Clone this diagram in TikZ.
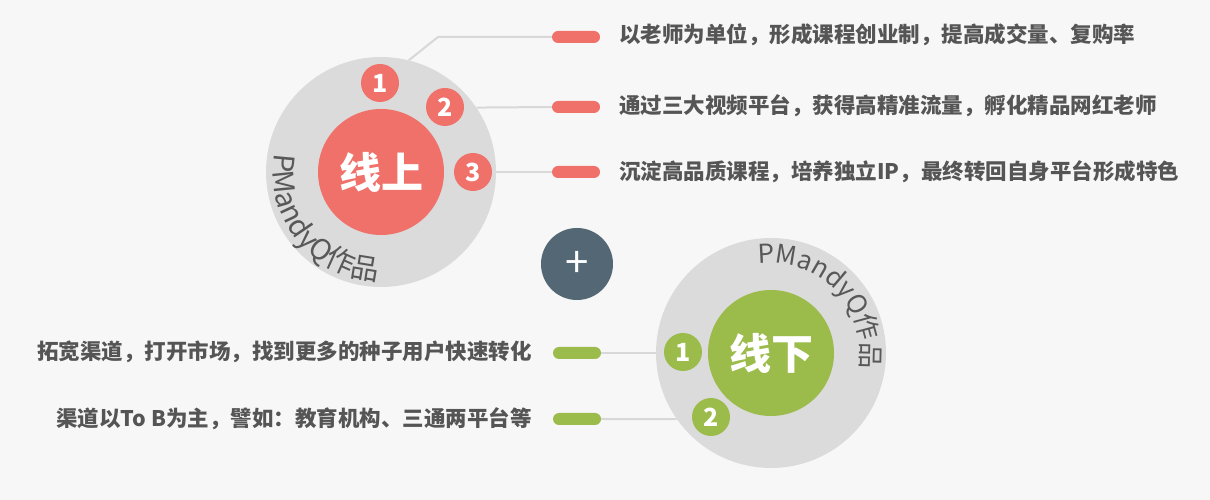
\documentclass[tikz,border=0pt]{standalone}
\usepackage{fontspec}
\setmainfont{Noto Sans CJK SC}
\usetikzlibrary{decorations.text}
\definecolor{bgpaper}{RGB}{247,247,247}
\definecolor{ringgray}{RGB}{219,219,219}
\definecolor{linegray}{RGB}{216,216,216}
\definecolor{onred}{RGB}{240,112,106}
\definecolor{offgreen}{RGB}{155,187,74}
\definecolor{plusslate}{RGB}{83,104,116}
\definecolor{txtgray}{RGB}{85,85,85}
\definecolor{markgray}{RGB}{88,88,88}
\begin{document}
\begin{tikzpicture}[x=1pt, y=1pt,
  ring/.style={circle, fill=ringgray, minimum size=230pt, inner sep=0pt},
  core/.style={circle, minimum size=126pt, inner sep=0pt, text=white, font=\bfseries\fontsize{42}{42}\selectfont},
  num/.style={circle, minimum size=38pt, inner sep=0pt, text=white, font=\bfseries\fontsize{25}{25}\selectfont},
  pill/.style={rectangle, rounded corners=6pt, minimum width=48pt, minimum height=12pt, inner sep=0pt},
  item/.style={text=txtgray, font=\bfseries\fontsize{21.5}{24}\selectfont, inner sep=0pt},
  link/.style={draw=linegray, line width=2pt}
]
\fill[bgpaper] (0,0) rectangle (1210,500);

\node[ring] (up)   at (381,328) {};
\node[ring] (down) at (771,147) {};

\node[core, fill=onred]    (online)  at (381,328) {线上};
\node[core, fill=offgreen] (offline) at (771,147) {线下};

\node[num, fill=onred] (n1) at (380,417) {1};
\node[num, fill=onred] (n2) at (445,393) {2};
\node[num, fill=onred] (n3) at (473,328) {3};
\node[num, fill=offgreen] (m1) at (683,148) {1};
\node[num, fill=offgreen] (m2) at (711,83)  {2};

\node[circle, fill=plusslate, minimum size=72pt, inner sep=0pt, text=white, font=\fontsize{42}{42}\selectfont] (plus) at (577,236) {+};

\node[pill, fill=onred] (p1) at (576,463) {};
\node[pill, fill=onred] (p2) at (576,393) {};
\node[pill, fill=onred] (p3) at (576,328) {};
\node[pill, fill=offgreen] (q1) at (577,147) {};
\node[pill, fill=offgreen] (q2) at (577,81)  {};

\coordinate (bend) at (438,463);
\draw[link] (up.76) -- (bend) -- (p1.west);
\draw[link] (up.34) -- (p2.west);
\draw[link] (up.0) -- (p3.west);
\draw[link] (down.180) -- (q1.east);
\draw[link] (down.215) -- (q2.east);

\node[item, anchor=west] (t1) at (619,465) {以老师为单位，形成课程创业制，提高成交量、复购率};
\node[item, anchor=west] (t2) at (619,394) {通过三大视频平台，获得高精准流量，孵化精品网红老师};
\node[item, anchor=west] (t3) at (619,328) {沉淀高品质课程，培养独立IP，最终转回自身平台形成特色};
\node[item, anchor=east] (s1) at (532,148) {拓宽渠道，打开市场，找到更多的种子用户快速转化};
\node[item, anchor=east] (s2) at (532,81)  {渠道以To B为主，譬如：教育机构、三通两平台等};

\path[decorate, decoration={text along path, text={|\fontsize{28.5}{28}\selectfont\color{markgray}|PMandyQ作品}}]
  (up.center) ++(170:108) arc[start angle=170, end angle=300, radius=108];
\path[decorate, decoration={text along path, text={|\fontsize{26}{26}\selectfont\color{markgray}|PMandyQ作品}}]
  (down.center) ++(98:90) arc[start angle=98, end angle=-40, radius=90];
\end{tikzpicture}
\end{document}
